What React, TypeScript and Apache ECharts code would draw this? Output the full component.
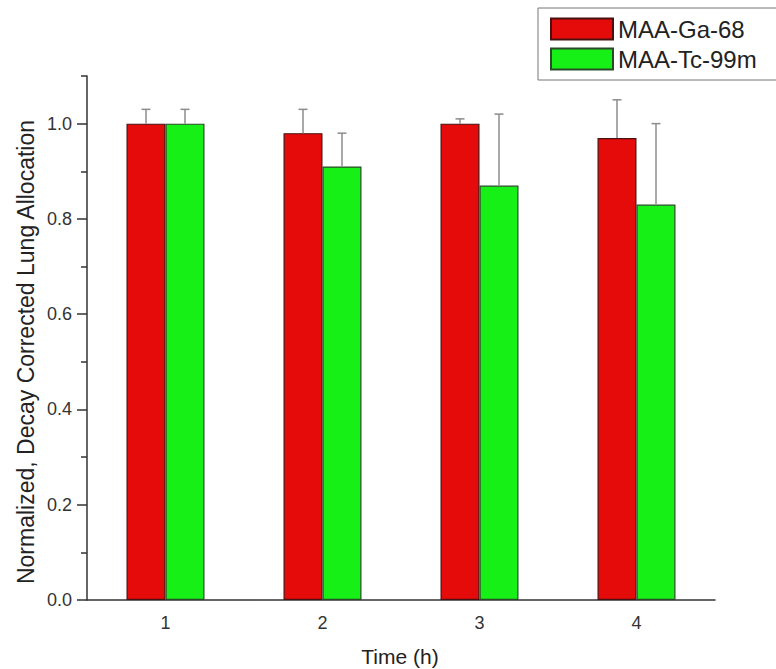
import React, { useEffect, useRef } from "react";
import * as echarts from "echarts";

const categories = ["1", "2", "3", "4"];
const seriesNames = ["MAA-Ga-68", "MAA-Tc-99m"];
const ga68Values = [1.0, 0.98, 1.0, 0.97];
const ga68Upper = [1.03, 1.03, 1.01, 1.05];
const tc99mValues = [1.0, 0.91, 0.87, 0.83];
const tc99mUpper = [1.03, 0.98, 1.02, 1.0];
const majorTicks = [0, 0.2, 0.4, 0.6, 0.8, 1.0];
const minorTicks = [0.1, 0.3, 0.5, 0.7, 0.9, 1.1];

const FONT = "Liberation Sans, Arial, sans-serif";
const BAR_W = 39;

function errorSeries(values: number[], upper: number[], offset: number) {
  return {
    type: "custom",
    xAxisIndex: 0,
    yAxisIndex: 0,
    silent: true,
    z: 3,
    data: values.map((v, i) => [i, v, upper[i]]),
    encode: { x: 0, y: [1, 2] },
    renderItem: (params: any, api: any) => {
      const i = api.value(0);
      const lo = api.coord([i, api.value(1)]);
      const hi = api.coord([i, api.value(2)]);
      const x = lo[0] + offset;
      const style = { stroke: "#8c8c8c", lineWidth: 1.5 };
      return {
        type: "group",
        children: [
          { type: "line", shape: { x1: x, y1: lo[1], x2: x, y2: hi[1] }, style },
          { type: "line", shape: { x1: x - 4.5, y1: hi[1], x2: x + 4.5, y2: hi[1] }, style },
        ],
      };
    },
  };
}

export default function App() {
  const ref = useRef<HTMLDivElement>(null);
  useEffect(() => {
    if (!ref.current) return;
    const chart = echarts.init(ref.current, undefined, { renderer: "svg" });
    const axisColor = "#333";
    chart.setOption({
      animation: false,
      textStyle: { fontFamily: FONT },
      grid: { left: 87, right: 61, top: 76, bottom: 69, containLabel: false },
      legend: {
        data: seriesNames,
        orient: "vertical",
        left: 538,
        top: 8,
        padding: [9, 22, 9, 12],
        itemWidth: 62,
        itemHeight: 21,
        itemGap: 6,
        borderColor: "#777",
        borderWidth: 1,
        icon: "rect",
        textStyle: { fontSize: 24, color: "#222", fontFamily: FONT },
      },
      xAxis: [
        {
          type: "category",
          data: categories,
          position: "bottom",
          axisLine: { lineStyle: { color: axisColor, width: 1.5 } },
          axisTick: { alignWithLabel: true, length: 10, lineStyle: { color: axisColor, width: 1.5 } },
          axisLabel: { fontSize: 18, color: "#333", margin: 14, fontFamily: FONT },
        },
        {
          type: "category",
          data: categories,
          position: "bottom",
          axisLine: { show: false },
          axisTick: { alignWithLabel: false, length: 5, lineStyle: { color: axisColor, width: 1.5 } },
          axisLabel: { show: false },
        },
      ],
      yAxis: [
        {
          type: "value",
          min: 0,
          max: 1.1,
          interval: 0.2,
          axisLine: { show: true, lineStyle: { color: axisColor, width: 1.5 } },
          axisTick: { show: true, length: 10, customValues: majorTicks, lineStyle: { color: axisColor, width: 1.5 } },
          axisLabel: {
            fontSize: 18,
            color: "#333",
            margin: 15,
            fontFamily: FONT,
            customValues: majorTicks,
            formatter: (v: number) => v.toFixed(1),
          },
          splitLine: { show: false },
        },
        {
          type: "value",
          min: 0,
          max: 1.1,
          position: "left",
          axisLine: { show: false },
          axisTick: { show: true, length: 6, customValues: minorTicks, lineStyle: { color: axisColor, width: 1.5 } },
          axisLabel: { show: false },
          splitLine: { show: false },
        },
      ],
      series: [
        {
          name: seriesNames[0],
          type: "bar",
          data: ga68Values,
          barWidth: BAR_W,
          barGap: "0%",
          itemStyle: { color: "#e60b0b", borderColor: "#4a1010", borderWidth: 1.2 },
        },
        {
          name: seriesNames[1],
          type: "bar",
          data: tc99mValues,
          barWidth: BAR_W,
          barGap: "0%",
          itemStyle: { color: "#17f017", borderColor: "#2a4a2a", borderWidth: 1.2 },
        },
        errorSeries(ga68Values, ga68Upper, -BAR_W / 2),
        errorSeries(tc99mValues, tc99mUpper, BAR_W / 2),
      ],
      graphic: [
        {
          type: "text",
          x: 26,
          y: 352,
          rotation: Math.PI / 2,
          style: {
            text: "Normalized, Decay Corrected Lung Allocation",
            fontSize: 23,
            fill: "#222",
            fontFamily: FONT,
            align: "center",
            verticalAlign: "middle",
          },
        },
        {
          type: "text",
          x: 400,
          y: 656,
          style: {
            text: "Time (h)",
            fontSize: 21,
            fill: "#222",
            fontFamily: FONT,
            align: "center",
            verticalAlign: "middle",
          },
        },
      ],
    });
    return () => chart.dispose();
  }, []);
  return (
    <div
      ref={ref}
      style={{ position: "fixed", left: 0, top: 0, width: 776, height: 669, background: "#fff" }}
    />
  );
}
